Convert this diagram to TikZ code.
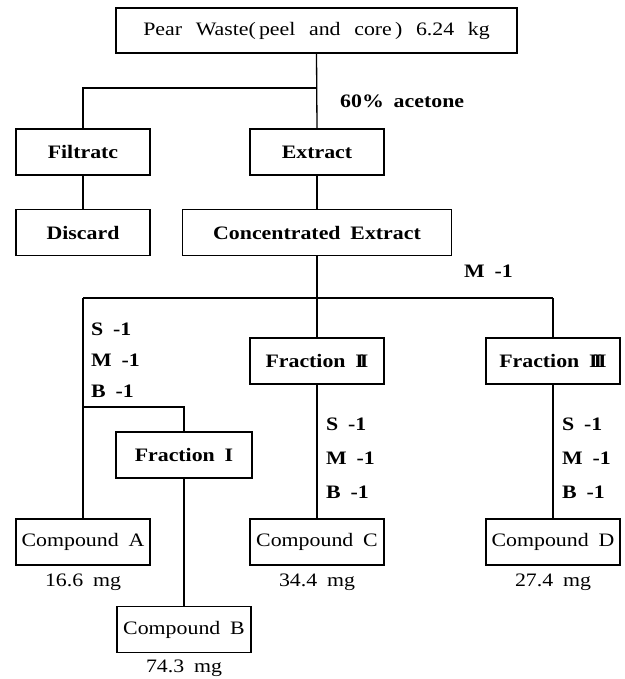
\documentclass[tikz,border=0pt]{standalone}
\usepackage{fontspec}
\setmainfont{Liberation Serif}[FakeStretch=1.15, WordSpace=1.8]
\newfontfamily\topfont{Liberation Serif}[FakeStretch=1.15, WordSpace=2.5]
\begin{document}
\begin{tikzpicture}[x=1pt,y=-1pt,
  box/.style={draw, line width=1.3pt, inner sep=0pt, minimum height=46pt, minimum width=134pt, font=\fontsize{19}{22}\selectfont},
  bbox/.style={box, font=\fontsize{19}{22}\selectfont\bfseries},
  lbl/.style={anchor=base west, inner sep=0pt, font=\fontsize{19}{22}\selectfont\bfseries},
  mg/.style={anchor=base, inner sep=0pt, font=\fontsize{19}{22}\selectfont},
  conn/.style={line width=1.3pt}]
\useasboundingbox (0,0) rectangle (624,679);
% boxes
\node[box, minimum width=401pt, minimum height=45pt, font=\fontsize{19}{22}\selectfont\topfont] (top) at (316.5,30.5) {Pear Waste(\,peel and core\,) 6.24 kg};
\node[bbox] (filtrate) at (83,152) {Filtratc};
\node[bbox] (extract) at (317,152) {Extract};
\node[bbox] (discard) at (83,232.5) {Discard};
\node[bbox, minimum width=269pt] (conc) at (317,232.5) {Concentrated Extract};
\node[bbox] (frac2) at (317,361) {Fraction I\kern-4ptI};
\node[bbox] (frac3) at (553,361) {Fraction I\kern-4ptI\kern-4ptI};
\node[bbox, minimum width=136pt] (frac1) at (184,455) {Fraction I};
\node[box] (compA) at (83,542) {Compound A};
\node[box] (compC) at (317,542) {Compound C};
\node[box] (compD) at (553,542) {Compound D};
\node[box] (compB) at (184,629.5) {Compound B};
% amounts
\node[mg] (mA) at (83,586) {16.6 mg};
\node[mg] (mC) at (317,586) {34.4 mg};
\node[mg] (mD) at (553,586) {27.4 mg};
\node[mg] (mB) at (184,672) {74.3 mg};
% labels
\node[lbl] (acet) at (340,108) {60\% acetone};
\node[lbl] (m0) at (464,277) {M -1};
\node[lbl] (s1) at (91,335) {S -1};
\node[lbl] (m1) at (91,366) {M -1};
\node[lbl] (b1) at (91,397) {B -1};
\node[lbl] (s2) at (326,430) {S -1};
\node[lbl] (m2) at (326,464) {M -1};
\node[lbl] (b2) at (326,498) {B -1};
\node[lbl] (s3) at (562,430) {S -1};
\node[lbl] (m3) at (562,464) {M -1};
\node[lbl] (b3) at (562,498) {B -1};
% junctions
\coordinate (j1) at (317,88);
\coordinate (j2) at (317,298);
\coordinate (j3) at (83,407);
% connectors
\draw[conn] (top.south) -- (extract.north);
\draw[conn] (j1) -| (filtrate.north);
\draw[conn] (filtrate.south) -- (discard.north);
\draw[conn] (extract.south) -- (conc.north);
\draw[conn] (conc.south) -- (frac2.north);
\draw[conn] (j2 -| compA.north) -- (j2 -| frac3.north);
\draw[conn] (j2 -| compA.north) -- (compA.north);
\draw[conn] (j2 -| frac3.north) -- (frac3.north);
\draw[conn] (j3) -| (frac1.north);
\draw[conn] (frac1.south) -- (compB.north);
\draw[conn] (frac2.south) -- (compC.north);
\draw[conn] (frac3.south) -- (compD.north);
\end{tikzpicture}
\end{document}
